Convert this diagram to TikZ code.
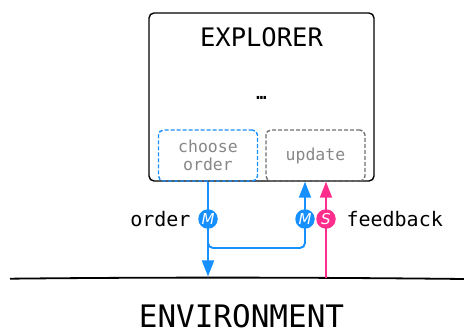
\documentclass[tikz,border=0pt]{standalone}
\usepackage{fontspec}
\setmainfont{DejaVu Sans Mono}
\newfontfamily\tagfont{DejaVu Sans}
\usetikzlibrary{arrows.meta}
\definecolor{orderblue}{RGB}{22,143,255}
\definecolor{feedpink}{RGB}{255,45,140}
\definecolor{softgray}{RGB}{135,135,135}
\definecolor{dashgray}{RGB}{112,112,112}
\begin{document}
\begin{tikzpicture}[x=1pt,y=-1pt,
    panel/.style={draw,line width=1.4pt,rounded corners=5pt,minimum width=225pt,minimum height=168pt},
    subbox/.style={draw,line width=1.4pt,dash pattern=on 4pt off 2pt,rounded corners=5pt,minimum width=99pt,minimum height=51pt,
        text=softgray,align=center,font=\fontsize{16.5}{18}\selectfont},
    flow/.style={line width=1.9pt},
    tip/.style={-{Triangle[length=16pt,width=12pt]}},
    tag/.style={circle,inner sep=0pt,minimum size=19.5pt,text=white,font=\tagfont\itshape\fontsize{15}{15}\selectfont},
    lbl/.style={font=\fontsize{20}{20}\selectfont}]
    \useasboundingbox (0,0) rectangle (464,331);
    \node[panel] (explorer) at (261.5,97) {};
    \node[font=\fontsize{25.5}{25.5}\selectfont] (title) at (261.5,37) {EXPLORER};
    \node[font=\bfseries\fontsize{17}{17}\selectfont] (dots) at (261.5,98) {…};
    \node[subbox,draw=orderblue] (choose) at (208,155.5) {choose\\order};
    \node[subbox,draw=dashgray] (update) at (315.5,155.5) {update};
    \draw[line width=1.8pt] (10,278.7) .. controls (150,277.2) and (300,277.2) .. (464,279);
    \coordinate (orderend) at (208,276.5);
    \coordinate (feedstart) at (326,278);
    \coordinate (join) at (305,248);
    \draw[flow,orderblue,tip] (choose.south) -- (orderend);
    \draw[flow,orderblue,tip,rounded corners=5pt] (choose.south |- 219,219) |- (join) -- (join |- update.south);
    \draw[flow,feedpink,tip] (feedstart) -- (feedstart |- update.south);
    \node[tag,fill=orderblue] (mleft) at (208,219) {M};
    \node[tag,fill=orderblue] (mright) at (305,219) {M};
    \node[tag,fill=feedpink] (sfeed) at (326,219) {S};
    \node[lbl,anchor=east] (order) at (194,219) {order};
    \node[lbl,anchor=west] (feedback) at (343,219) {feedback};
    \node[inner sep=0pt,font=\fontsize{31}{31}\selectfont] (environment) at (241.5,316) {ENVIRONMENT};
\end{tikzpicture}
\end{document}
